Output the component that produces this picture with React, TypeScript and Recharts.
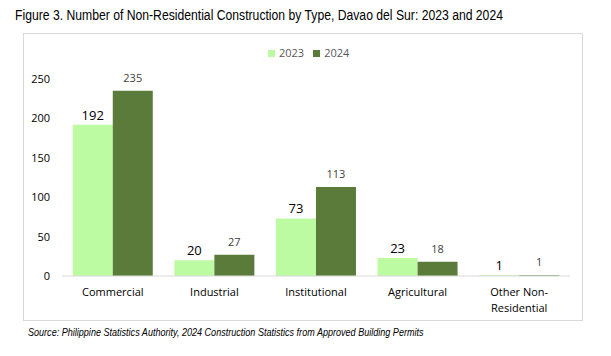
import React from "react";
import { BarChart, Bar, XAxis, YAxis, LabelList } from "recharts";

const categories = ["Commercial", "Industrial", "Institutional", "Agricultural", "Other Non-Residential"];
const values2023 = [192, 20, 73, 23, 1];
const values2024 = [235, 27, 113, 18, 1];
const yTicks = [0, 50, 100, 150, 200, 250];
const seriesNames = ["2023", "2024"];
const seriesColors = ["#bdfba3", "#5b7b3b"];
const title = "Figure 3. Number of Non-Residential Construction by Type, Davao del Sur: 2023 and 2024";
const source = "Source: Philippine Statistics Authority, 2024 Construction Statistics from Approved Building Permits";

const data = categories.map((c, i) => ({ name: c, y2023: values2023[i], y2024: values2024[i] }));

const FONT = "'Open Sans', 'Noto Sans', sans-serif";

const XTick = (props: any) => {
  const { x, y, payload } = props;
  const label: string = payload.value;
  const idx = label.indexOf("Non-");
  const lines = idx >= 0 ? [label.slice(0, idx + 4), label.slice(idx + 4)] : [label];
  return (
    <text x={x} y={y} textAnchor="middle" fontSize={11} fill="#000" fontFamily={FONT}>
      {lines.map((l, i) => (
        <tspan key={i} x={x} dy={i === 0 ? 12 : 16}>{l}</tspan>
      ))}
    </text>
  );
};

export default function App() {
  return (
    <div style={{ position: "absolute", left: 0, top: 0, width: 611, height: 356, background: "#fff" }}>
      <div style={{ position: "absolute", left: 15, top: 7, fontFamily: "'Liberation Sans', Arial, sans-serif", fontSize: 14, color: "#000", whiteSpace: "nowrap", transform: "scaleX(0.87)", transformOrigin: "left top" }}>
        {title}
      </div>
      <div style={{ position: "absolute", left: 23, top: 33, width: 560, height: 288, border: "1px solid #d9d9d9", boxSizing: "border-box" }} />
      <div style={{ position: "absolute", left: 28, top: 327, fontFamily: "'Liberation Sans', Arial, sans-serif", fontSize: 10, fontStyle: "italic", color: "#000", whiteSpace: "nowrap", transform: "scaleX(0.905)", transformOrigin: "left top" }}>
        {source}
      </div>
      <div style={{ position: "absolute", left: 268, top: 45, display: "flex", alignItems: "center", fontFamily: FONT, fontSize: 11, color: "#595959", lineHeight: "16px" }}>
        {seriesNames.map((n, i) => (
          <div key={n} style={{ display: "flex", alignItems: "center", marginRight: 9 }}>
            <div style={{ width: 7, height: 7, background: seriesColors[i], marginRight: 4 }} />
            <span>{n}</span>
          </div>
        ))}
      </div>
      <div style={{ position: "absolute", left: 0, top: 0 }}>
        <BarChart
          width={611}
          height={356}
          data={data}
          margin={{ top: 79, bottom: 40, left: 22, right: 41 }}
          barCategoryGap="10.6%"
          barGap={0}
        >
          <XAxis
            dataKey="name"
            axisLine={{ stroke: "#d9d9d9" }}
            tickLine={false}
            tick={<XTick />}
            interval={0}
            height={40}
          />
          <YAxis
            width={40}
            domain={[0, 250]}
            ticks={yTicks}
            axisLine={false}
            tickLine={false}
            tickSize={0}
            tickMargin={12}
            tick={{ fontSize: 11, fill: "#000", fontFamily: FONT }}
          />
          <Bar dataKey="y2023" name={seriesNames[0]} fill={seriesColors[0]} isAnimationActive={false}>
            <LabelList dataKey="y2023" position="top" offset={5} fontSize={13} fill="#000" fontFamily={FONT} />
          </Bar>
          <Bar dataKey="y2024" name={seriesNames[1]} fill={seriesColors[1]} isAnimationActive={false}>
            <LabelList dataKey="y2024" position="top" offset={9} fontSize={11} fill="#404040" fontFamily={FONT} />
          </Bar>
        </BarChart>
      </div>
    </div>
  );
}
